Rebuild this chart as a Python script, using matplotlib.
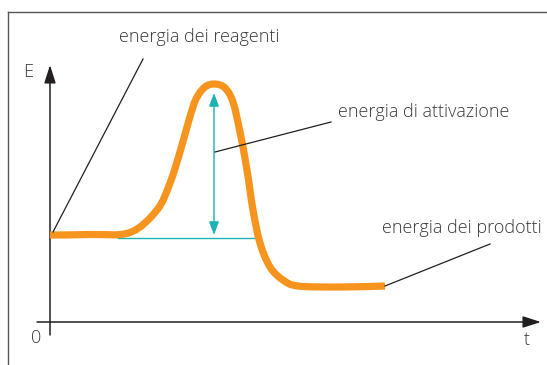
import numpy as np
import matplotlib
matplotlib.use("Agg")
import matplotlib.pyplot as plt
from matplotlib.lines import Line2D
from matplotlib.path import Path
from matplotlib.patches import PathPatch

plt.rcParams['font.family'] = ['Open Sans', 'DejaVu Sans']

# reaction profile (t, E in arbitrary units)
t_curve = [0, 4, 8.0, 10.7, 12, 13.0, 13.9, 14.6, 15.5, 16.5,
           17.5, 18.3, 19.0, 19.7, 20.3, 21, 22, 23.3, 24.8, 29, 33.5]
E_curve = [8.7, 8.75, 8.95, 11.2, 13.9, 17.0, 20.2, 22.3, 23.5, 23.8,
           23.4, 22.0, 19.0, 15.2, 11.2, 7.9, 5.5, 4.2, 3.6, 3.5, 3.6]

E_reagents = 8.4
E_peak = 22.9
t_activation = 16.4
t_level = [6.8, 20.5]

labels = ["energia dei reagenti", "energia di attivazione", "energia dei prodotti"]
label_pos = [(6.9, 28.5), (28.8, 21.0), (33.2, 9.4)]
leaders = [((0.3, 9.0), (9.3, 26.3)),
           ((16.5, 17.0), (28.1, 20.0)),
           ((33.5, 3.6), (44.0, 7.8))]

orange = '#F7941D'
teal = '#1BB3B3'
ink = '#231F20'
grey = '#3a3a3a'


def smooth_path(x, y):
    # Catmull-Rom through the points, drawn as cubic Bezier segments
    p = np.column_stack([x, y])
    p_ext = np.vstack([p[0], p, p[-1]])
    verts = [p[0]]
    codes = [Path.MOVETO]
    for i in range(len(p) - 1):
        a, b, c, d = p_ext[i], p_ext[i + 1], p_ext[i + 2], p_ext[i + 3]
        verts += [b + (c - a) / 6, c - (d - b) / 6, c]
        codes += [Path.CURVE4] * 3
    return Path(verts, codes)


fig = plt.figure(figsize=(5.47, 3.65), dpi=100)
ax = fig.add_axes([0, 0, 1, 1])
ax.set_xlim(-5, 49.7)
ax.set_ylim(-4.3, 32.2)
ax.axis('off')

# frame
fig.add_artist(Line2D([8 / 547, 1], [1 - 12 / 365] * 2, color='#555555', lw=1.0))
fig.add_artist(Line2D([8 / 547] * 2, [0, 1 - 12 / 365], color='#555555', lw=1.0))

# axes with arrows
ax.annotate('', xy=(0, 25.7), xytext=(0, -1.3),
            arrowprops=dict(arrowstyle='-|>,head_length=1.1,head_width=0.35',
                            color=ink, lw=1.1, shrinkA=0, shrinkB=0))
ax.annotate('', xy=(49.1, 0), xytext=(-1.3, 0),
            arrowprops=dict(arrowstyle='-|>,head_length=1.1,head_width=0.35',
                            color=ink, lw=1.1, shrinkA=0, shrinkB=0))
ax.text(-2.2, 25.0, 'E', fontsize=13, color=grey, ha='center', va='center',
        fontweight='light')
ax.text(-1.4, -1.6, '0', fontsize=13, color=grey, ha='center', va='center',
        fontweight='light')
ax.text(47.7, -1.8, 't', fontsize=13, color=grey, ha='center', va='center',
        fontweight='light')

# activation energy markers
ax.plot(t_level, [E_reagents, E_reagents], color=teal, lw=1.0, zorder=2)
ax.annotate('', xy=(t_activation, E_peak), xytext=(t_activation, E_curve[0]),
            arrowprops=dict(arrowstyle='<|-|>,head_length=0.8,head_width=0.3',
                            color=teal, lw=1.0, shrinkA=0, shrinkB=0))

# profile
ax.add_patch(PathPatch(smooth_path(t_curve, E_curve), facecolor='none',
                       edgecolor=orange, lw=5.2, joinstyle='round',
                       capstyle='butt', zorder=3))

# labels and leader lines
for text, (x, y), (p0, p1) in zip(labels, label_pos, leaders):
    ax.plot([p0[0], p1[0]], [p0[1], p1[1]], color=ink, lw=0.9, zorder=4)
    ax.text(x, y, text, fontsize=13, color=grey, ha='left', va='center',
            fontweight='light')

fig.savefig('out.png', dpi=100)
